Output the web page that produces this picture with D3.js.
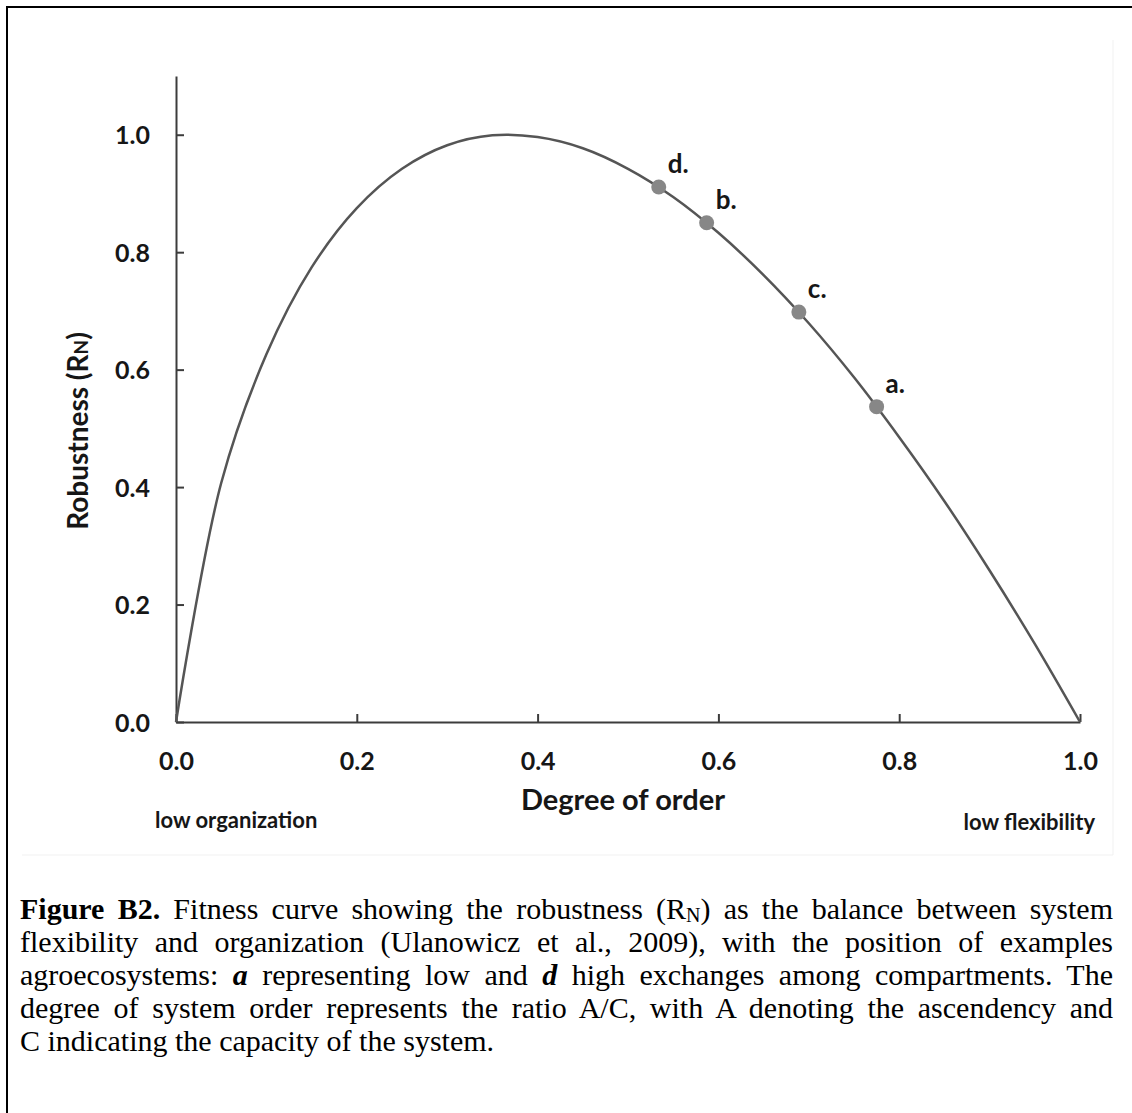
<!DOCTYPE html>
<html>
<head>
<meta charset="utf-8">
<script src="https://cdn.jsdelivr.net/npm/d3@7"></script>
<style>
  html, body { margin: 0; padding: 0; background: #fff; }
  svg { display: block; }
</style>
</head>
<body>
<svg id="chart" width="1132" height="1113"></svg>
<script>
// Fitness curve: robustness against degree of order (A/C), sampled every 0.05
const degreeOfOrder = [0, 0.05, 0.1, 0.15, 0.2, 0.25, 0.3, 0.35, 0.4, 0.45, 0.5,
  0.55, 0.6, 0.65, 0.7, 0.75, 0.8, 0.85, 0.9, 0.95, 1.0];
const robustness = [0, 0.407, 0.626, 0.774, 0.875, 0.942, 0.982, 0.999, 0.996, 0.977, 0.942,
  0.894, 0.833, 0.761, 0.679, 0.587, 0.485, 0.376, 0.258, 0.133, 0];

// Example agroecosystems placed on the curve
const systemLabels = ["a.", "b.", "c.", "d."];
const systemOrder = [0.775, 0.587, 0.689, 0.534];
const systemRobustness = [0.537, 0.850, 0.698, 0.911];

const xTickValues = [0, 0.2, 0.4, 0.6, 0.8, 1.0];
const yTickValues = [0, 0.2, 0.4, 0.6, 0.8, 1.0];

const captionLines = [
  [{t: "Figure B2.", b: true}, {t: " Fitness curve showing the robustness (R"}, {t: "N", sub: true}, {t: ") as the balance between system"}],
  [{t: "flexibility and organization (Ulanowicz et al., 2009), with the position of examples"}],
  [{t: "agroecosystems: "}, {t: "a", b: true, i: true}, {t: " representing low and "}, {t: "d", b: true, i: true}, {t: " high exchanges among compartments. The"}],
  [{t: "degree of system order represents the ratio A/C, with A denoting the ascendency and"}],
  [{t: "C indicating the capacity of the system."}]
];

const svg = d3.select("#chart");
const sans = "Lato, 'Open Sans', sans-serif";
const ink = "#161616";

// page frame
svg.append("rect").attr("x", 7).attr("y", 7).attr("width", 1300).attr("height", 1300)
  .attr("fill", "none").attr("stroke", "#000").attr("stroke-width", 2);

// faint edge of the embedded chart picture
svg.append("path").attr("d", "M22,855H1113V40")
  .attr("fill", "none").attr("stroke", "#f1f1f1").attr("stroke-width", 1);

const x = d3.scaleLinear().domain([0, 1]).range([176, 1080]);
const y = d3.scaleLinear().domain([0, 1.1]).range([722, 76]);

const axisColor = "#3c3c3c";

const gx = svg.append("g").attr("transform", `translate(0,${y(0)})`)
  .call(d3.axisBottom(x).tickValues(xTickValues).tickFormat(d3.format(".1f"))
    .tickSizeInner(-8).tickSizeOuter(0).tickPadding(30));
const gy = svg.append("g").attr("transform", `translate(${x(0)},0)`)
  .call(d3.axisLeft(y).tickValues(yTickValues).tickFormat(d3.format(".1f"))
    .tickSizeInner(-8).tickSizeOuter(0).tickPadding(26));

[gx, gy].forEach(g => {
  g.select(".domain").attr("stroke", axisColor).attr("stroke-width", 2);
  g.selectAll(".tick line").attr("stroke", axisColor).attr("stroke-width", 2);
  g.selectAll(".tick text").attr("fill", ink)
    .style("font-family", sans).style("font-weight", 700).style("font-size", "25px");
});
gy.selectAll(".tick text").attr("dy", "0.36em");

// curve
const pts = degreeOfOrder.map((d, i) => [d, robustness[i]]);
svg.append("path").datum(pts)
  .attr("fill", "none").attr("stroke", "#555").attr("stroke-width", 2.5)
  .attr("d", d3.line().x(d => x(d[0])).y(d => y(d[1])).curve(d3.curveCatmullRom.alpha(0.5)));

// example systems
const sys = systemLabels.map((l, i) => ({l, x: systemOrder[i], y: systemRobustness[i]}));
svg.selectAll("circle.sys").data(sys).join("circle").attr("class", "sys")
  .attr("cx", d => x(d.x)).attr("cy", d => y(d.y)).attr("r", 7.5).attr("fill", "#878787");
svg.selectAll("text.sys").data(sys).join("text").attr("class", "sys")
  .attr("x", d => x(d.x) + 9).attr("y", d => y(d.y) - 14)
  .style("font-family", sans).style("font-weight", 700).style("font-size", "26px").attr("fill", ink)
  .text(d => d.l);

// axis titles
svg.append("text").attr("x", 623).attr("y", 810).attr("text-anchor", "middle")
  .style("font-family", sans).style("font-weight", 700).style("font-size", "29px").attr("fill", ink)
  .text("Degree of order");

const yt = svg.append("text").attr("transform", "translate(88,431) rotate(-90)").attr("text-anchor", "middle")
  .style("font-family", sans).style("font-weight", 700).style("font-size", "28px").attr("fill", ink);
yt.append("tspan").text("Robustness (R");
yt.append("tspan").style("font-size", "19px").text("N");
yt.append("tspan").text(")");

svg.append("text").attr("x", 155).attr("y", 828)
  .style("font-family", sans).style("font-weight", 700).style("font-size", "22px").attr("fill", ink)
  .text("low organization");
svg.append("text").attr("x", 1095).attr("y", 830).attr("text-anchor", "end")
  .style("font-family", sans).style("font-weight", 700).style("font-size", "22px").attr("fill", ink)
  .text("low flexibility");

// caption, justified between the page margins
const capLeft = 20, capRight = 1113, capTop = 919, capStep = 33;
captionLines.forEach((segs, li) => {
  const t = svg.append("text").attr("x", capLeft).attr("y", capTop + li * capStep)
    .style("font-family", "'Liberation Serif', 'Times New Roman', serif").style("font-size", "30px")
    .attr("fill", "#000").attr("xml:space", "preserve");
  segs.forEach((s, si) => {
    const ts = t.append("tspan").text(s.t);
    if (s.b) ts.style("font-weight", 700);
    if (s.i) ts.style("font-style", "italic");
    if (s.sub) ts.style("font-size", "20px").attr("dy", 3);
    else if (si > 0 && segs[si - 1].sub) ts.attr("dy", -3);
  });
  if (li < captionLines.length - 1) {
    const full = segs.map(s => s.t).join("");
    const spaces = (full.match(/ /g) || []).length;
    const w = t.node().getComputedTextLength();
    const extra = (capRight - capLeft - w) / spaces;
    t.style("word-spacing", `${extra}px`);
  }
});
</script>
</body>
</html>
